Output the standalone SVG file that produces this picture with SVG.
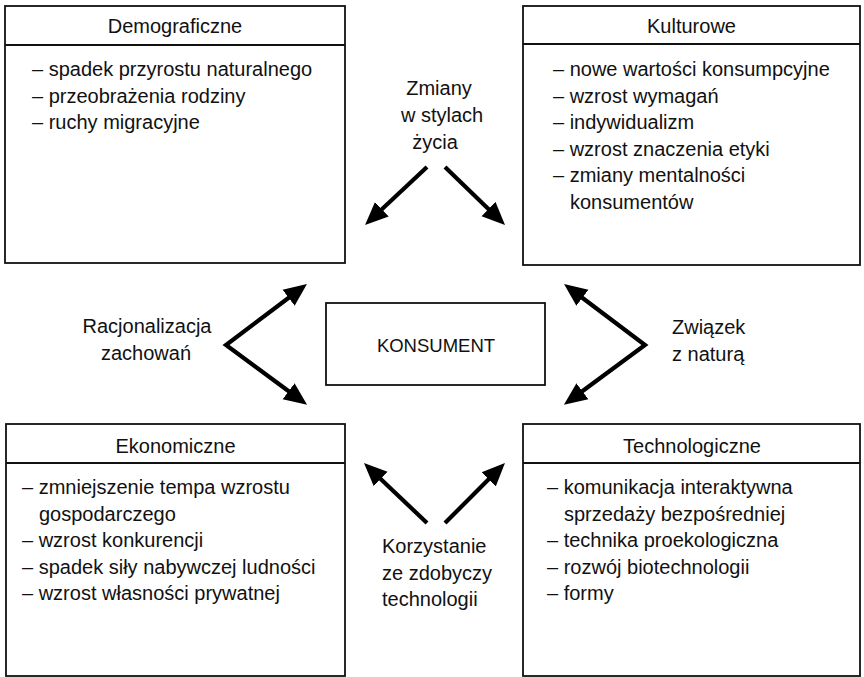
<svg xmlns="http://www.w3.org/2000/svg" width="864" height="677" viewBox="0 0 864 677">
  <style>
    text { font-family: "Liberation Sans", Arial, sans-serif; font-size: 20px; fill: #111; }
    .box { fill: #fff; stroke: #111; stroke-width: 1.8; }
    .rule { stroke: #111; stroke-width: 1.8; }
    .hdr { text-anchor: middle; }
    .mid { text-anchor: middle; }
    .arrow { fill: none; stroke: #000; stroke-width: 4.2; stroke-linejoin: miter; stroke-miterlimit: 10; marker-end: url(#head); }
    .vee { fill: none; stroke: #000; stroke-width: 4.2; stroke-linejoin: miter; stroke-miterlimit: 10; marker-start: url(#head); marker-end: url(#head); }
  </style>
  <defs>
    <marker id="head" markerUnits="userSpaceOnUse" viewBox="0 -11 25 22" markerWidth="25" markerHeight="22" refX="1" refY="0" orient="auto-start-reverse">
      <path d="M0,-10 L23,0 L0,10 z" fill="#000"/>
    </marker>
  </defs>
  <rect width="864" height="677" fill="#fff"/>

  <!-- Demographic factors -->
  <g id="demograficzne">
    <rect class="box" x="5" y="6" width="340" height="257"/>
    <line class="rule" x1="5" y1="45" x2="345" y2="45"/>
    <text class="hdr" x="175" y="33">Demograficzne</text>
    <text x="32" y="76">– spadek przyrostu naturalnego</text>
    <text x="32" y="102.5">– przeobrażenia rodziny</text>
    <text x="32" y="129">– ruchy migracyjne</text>
  </g>

  <!-- Cultural factors -->
  <g id="kulturowe">
    <rect class="box" x="523" y="6" width="337" height="259"/>
    <line class="rule" x1="523" y1="44" x2="860" y2="44"/>
    <text class="hdr" x="691.5" y="33">Kulturowe</text>
    <text x="553" y="76">– nowe wartości konsumpcyjne</text>
    <text x="553" y="102.6">– wzrost wymagań</text>
    <text x="553" y="129.2">– indywidualizm</text>
    <text x="553" y="155.8">– wzrost znaczenia etyki</text>
    <text x="553" y="182.4">– zmiany mentalności</text>
    <text x="570" y="209">konsumentów</text>
  </g>

  <!-- Consumer -->
  <g id="konsument">
    <rect class="box" x="326" y="303" width="219" height="82"/>
    <text class="mid" x="436" y="352" style="font-size:18.5px">KONSUMENT</text>
  </g>

  <!-- Economic factors -->
  <g id="ekonomiczne">
    <rect class="box" x="6" y="424" width="339" height="252"/>
    <line class="rule" x1="6" y1="463" x2="345" y2="463"/>
    <text class="hdr" x="175.5" y="453">Ekonomiczne</text>
    <text x="22" y="494">– zmniejszenie tempa wzrostu</text>
    <text x="39" y="520.5">gospodarczego</text>
    <text x="22" y="547">– wzrost konkurencji</text>
    <text x="22" y="573.5">– spadek siły nabywczej ludności</text>
    <text x="22" y="600">– wzrost własności prywatnej</text>
  </g>

  <!-- Technological factors -->
  <g id="technologiczne">
    <rect class="box" x="523" y="424" width="337" height="252"/>
    <line class="rule" x1="523" y1="463" x2="860" y2="463"/>
    <text class="hdr" x="692" y="453">Technologiczne</text>
    <text x="547" y="494">– komunikacja interaktywna</text>
    <text x="564" y="520.5">sprzedaży bezpośredniej</text>
    <text x="547" y="547">– technika proekologiczna</text>
    <text x="547" y="573.5">– rozwój biotechnologii</text>
    <text x="547" y="600">– formy</text>
  </g>

  <!-- Connector labels -->
  <g id="labels">
    <text class="mid" x="439" y="95">Zmiany</text>
    <text class="mid" x="442" y="122">w stylach</text>
    <text class="mid" x="435" y="149">życia</text>
    <text class="mid" x="147" y="333">Racjonalizacja</text>
    <text class="mid" x="146" y="360">zachowań</text>
    <text x="672" y="334">Związek</text>
    <text x="672" y="361">z naturą</text>
    <text x="382" y="553">Korzystanie</text>
    <text x="382" y="579.5">ze zdobyczy</text>
    <text x="382" y="606">technologii</text>
  </g>

  <!-- Connectors -->
  <g id="connectors">
    <path class="arrow" d="M427,167 L381.1,210"/>
    <path class="arrow" d="M445,167 L489.2,209.7"/>
    <path class="vee" d="M289.4,297.2 L226,345 L289.4,391.8"/>
    <path class="vee" d="M581.6,297.2 L645,345 L581.6,391.8"/>
    <path class="arrow" d="M427,523 L379.9,478.2"/>
    <path class="arrow" d="M445,523 L489.4,478.6"/>
  </g>
</svg>
